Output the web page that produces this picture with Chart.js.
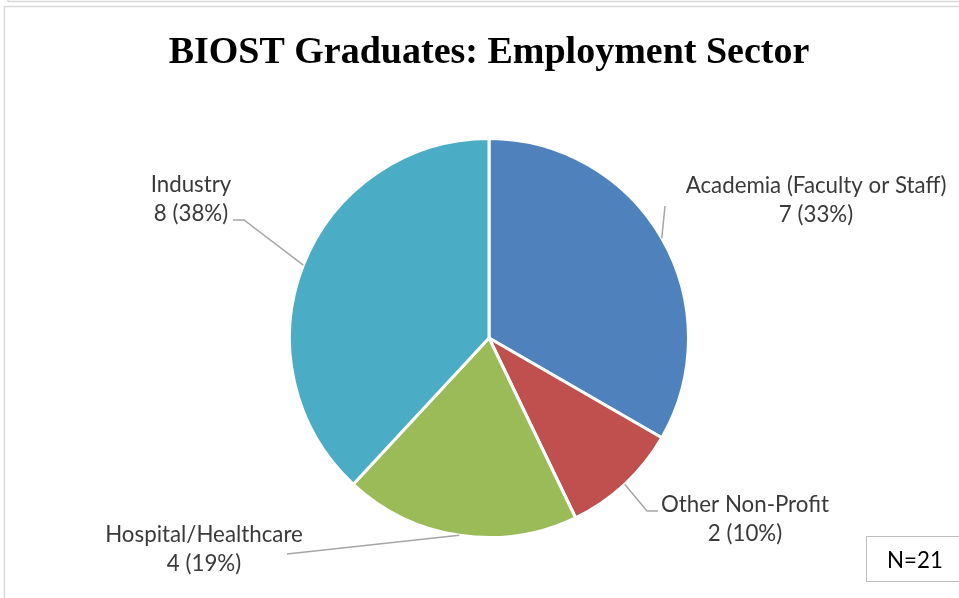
<!DOCTYPE html>
<html>
<head>
<meta charset="utf-8">
<script src="https://cdn.jsdelivr.net/npm/chart.js@4.4.1/dist/chart.umd.min.js"></script>
<style>
  html, body { margin: 0; padding: 0; background: #fff; }
  #wrap { position: relative; width: 959px; height: 598px; }
</style>
</head>
<body>
<div id="wrap"><canvas id="pie"></canvas></div>
<script>
// chart data
var sectors = ["Academia (Faculty or Staff)", "Other Non-Profit", "Hospital/Healthcare", "Industry"];
var counts = [7, 2, 4, 8];
var sectorColors = ["#4F81BD", "#C0504D", "#9BBB59", "#4BACC6"];
var chartTitle = "BIOST Graduates: Employment Sector";
var noteText = "N=21";

// where each data label sits and how its leader line bends (style only)
var labelPlaces = [
    {x: 816, y: 193, bend: null,       end: [665, 206]},
    {x: 745, y: 512, bend: [647, 511], end: [658, 511]},
    {x: 204, y: 542, bend: null,       end: [287, 554]},
    {x: 191, y: 192, bend: [244, 220], end: [233, 220]}
];

var labelFont = "22.3px Lato";
var textColor = "#3a3a3a";

var total = counts.reduce(function (a, b) { return a + b; }, 0);

var decor = {
    id: 'decor',
    beforeDraw: function (chart) {
        var ctx = chart.ctx;
        ctx.save();
        ctx.strokeStyle = "#d9d9d9";
        ctx.lineWidth = 1.5;
        ctx.beginPath();
        ctx.moveTo(8, 1.5); ctx.lineTo(959, 1.5);
        ctx.moveTo(8, 0); ctx.lineTo(8, 1.5);
        ctx.stroke();
        ctx.beginPath();
        ctx.moveTo(4.5, 598); ctx.lineTo(4.5, 6.5); ctx.lineTo(959, 6.5);
        ctx.stroke();
        ctx.restore();
    },
    afterDraw: function (chart) {
        var ctx = chart.ctx;
        var meta = chart.getDatasetMeta(0);
        ctx.save();

        // title
        ctx.fillStyle = "#000";
        ctx.font = "bold 38px 'Liberation Serif'";
        ctx.textAlign = "center";
        ctx.textBaseline = "alphabetic";
        ctx.fillText(chartTitle, 489, 63);

        // data labels with leader lines
        meta.data.forEach(function (arc, i) {
            var p = arc.getProps(['x', 'y', 'startAngle', 'endAngle', 'outerRadius'], true);
            var mid = (p.startAngle + p.endAngle) / 2;
            var ax = p.x + Math.cos(mid) * p.outerRadius;
            var ay = p.y + Math.sin(mid) * p.outerRadius;
            var lp = labelPlaces[i];

            ctx.strokeStyle = "#a6a6a6";
            ctx.lineWidth = 1.5;
            ctx.beginPath();
            ctx.moveTo(ax, ay);
            if (lp.bend) ctx.lineTo(lp.bend[0], lp.bend[1]);
            ctx.lineTo(lp.end[0], lp.end[1]);
            ctx.stroke();

            var pct = Math.round(counts[i] / total * 100);
            ctx.fillStyle = textColor;
            ctx.font = labelFont;
            ctx.textAlign = "center";
            ctx.fillText(sectors[i], lp.x, lp.y);
            ctx.fillText(counts[i] + " (" + pct + "%)", lp.x, lp.y + 29);
        });

        // N box
        ctx.strokeStyle = "#bfbfbf";
        ctx.lineWidth = 1;
        ctx.strokeRect(866.5, 536.5, 100, 45);
        ctx.fillStyle = "#000";
        ctx.font = labelFont;
        ctx.textAlign = "left";
        ctx.fillText(noteText, 887, 568);
        ctx.restore();
    }
};

new Chart(document.getElementById('pie'), {
    type: 'pie',
    data: {
        labels: sectors,
        datasets: [{
            data: counts,
            backgroundColor: sectorColors,
            borderColor: "#ffffff",
            borderWidth: 3
        }]
    },
    options: {
        responsive: true,
        maintainAspectRatio: false,
        animation: false,
        layout: { padding: { left: 288, right: 269, top: 137, bottom: 59 } },
        plugins: {
            legend: { display: false },
            title: { display: false },
            tooltip: { enabled: false }
        }
    },
    plugins: [decor]
});
</script>
</body>
</html>
